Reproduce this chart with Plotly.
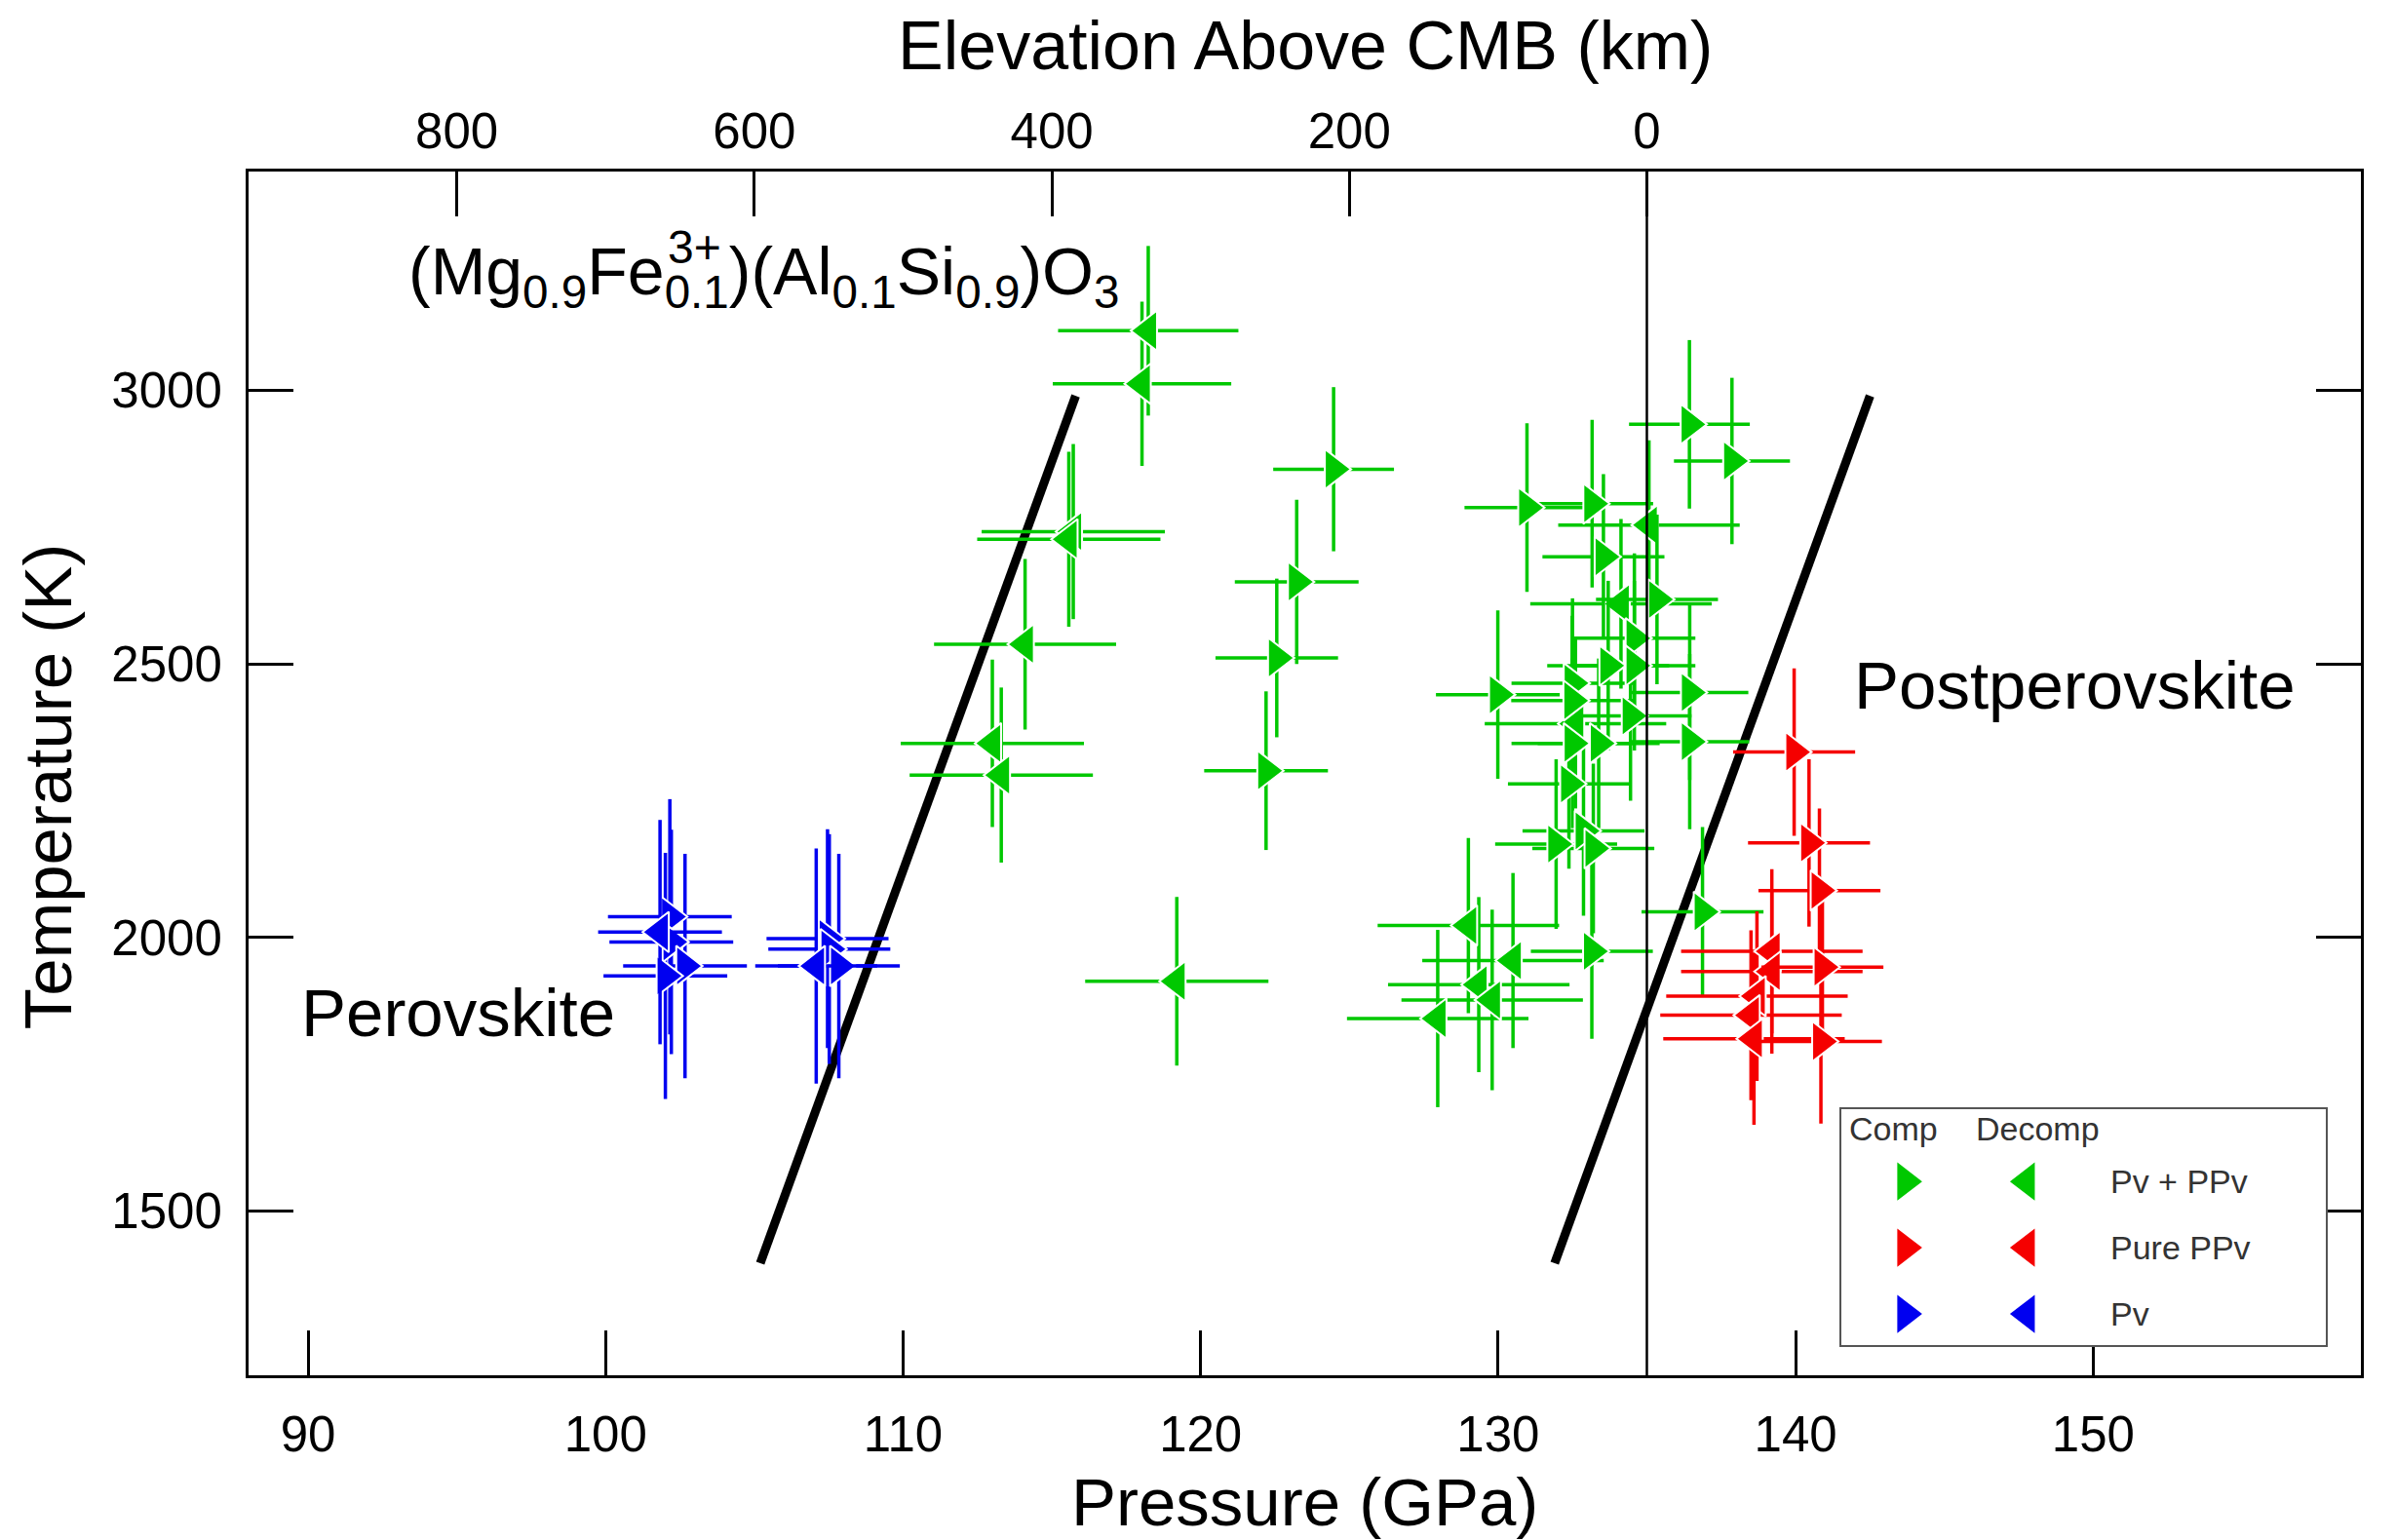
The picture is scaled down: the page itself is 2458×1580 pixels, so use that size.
import plotly.graph_objects as go

# ---------------- data ----------------
# Pv + PPv (green), compression (right-pointing)
gc_P = [124.47, 123.23, 122.56, 122.20, 136.43, 137.86, 130.97, 133.16, 133.54, 135.34,
        134.58, 133.70, 134.58, 129.99, 136.44, 132.50, 132.49, 134.45, 132.50, 133.38,
        136.44, 132.38, 132.87, 131.95, 133.20, 133.15, 136.87]
gc_T = [2856, 2650, 2511, 2305, 2938, 2871, 2786, 2793, 2696, 2618,
        2547, 2497, 2497, 2444, 2448, 2465, 2433, 2405, 2355, 2355,
        2358, 2281, 2195, 2171, 2163, 1975, 2047]
gc_Perr = [2.03, 2.08, 2.06, 2.08, 2.03, 1.95, 2.10, 2.05, 2.05, 2.05,
           2.05, 2.05, 2.05, 2.08, 1.97, 2.05, 2.05, 2.05, 2.05, 2.05,
           2.00, 2.05, 2.05, 2.05, 2.05, 2.05, 2.05]
gc_Terr = [150, 150, 145, 145, 154, 152, 154, 153, 151, 155,
           155, 155, 155, 154, 160, 155, 155, 155, 155, 155,
           160, 155, 155, 155, 155, 160, 155]

# Pv + PPv (green), decompression (left-pointing)
gd_P = [118.24, 118.03, 115.72, 115.57, 114.10, 113.00, 113.30, 119.20,
        135.07, 134.13, 132.60, 129.00, 130.50, 129.35, 129.80, 127.97]
gd_T = [3109, 3012, 2742, 2728, 2536, 2355, 2297, 1920,
        2754, 2610, 2391, 2022, 1958, 1914, 1886, 1852]
gd_Perr = [3.03, 3.00, 3.08, 3.08, 3.06, 3.08, 3.08, 3.08,
           3.05, 3.05, 3.05, 3.05, 3.05, 3.05, 3.05, 3.05]
gd_Terr = [155, 150, 160, 160, 156, 153, 160, 154,
           155, 155, 155, 160, 160, 160, 165, 162]

# Pure PPv (red)
rc_P = [139.95, 140.45, 140.80, 140.90, 140.85]
rc_T = [2339, 2173, 2086, 1946, 1810]
rc_Perr = [2.05, 2.05, 2.05, 2.05, 2.05]
rc_Terr = [153, 153, 150, 150, 150]
rd_P = [139.20, 139.20, 138.70, 138.50, 138.60]
rd_T = [1975, 1938, 1893, 1858, 1815]
rd_Perr = [3.05, 3.05, 3.05, 3.05, 3.05]
rd_Terr = [150, 150, 155, 155, 157]

# Pv (blue)
bc_P = [102.16, 102.21, 102.67, 102.01, 107.46, 107.52, 107.84]
bc_T = [2038, 1992, 1948, 1930, 1998, 1979, 1948]
bc_Perr = [2.08, 2.08, 2.08, 2.08, 2.05, 2.05, 2.05]
bc_Terr = [215, 205, 205, 225, 200, 210, 205]
bd_P = [101.83, 107.08]
bd_T = [2010, 1948]
bd_Perr = [2.08, 2.05]
bd_Terr = [205, 215]

# Phase boundaries
left_bound_P = [105.2, 115.8]
left_bound_T = [1405, 2990]
right_bound_P = [131.9, 142.5]
right_bound_T = [1405, 2990]

# Core-mantle boundary (elevation 0 km)
cmb_elev = [0, 0]
cmb_T = [1200, 3400]

P_ticks = [90, 100, 110, 120, 130, 140, 150]
T_ticks = [1500, 2000, 2500, 3000]
elev_ticks = [800, 600, 400, 200, 0]

legend_rows = ["Pv + PPv", "Pure PPv", "Pv"]
legend_cols = ["Comp", "Decomp"]

# ---------------- style ----------------
GREEN = "rgb(0,200,0)"
RED = "rgb(245,0,0)"
BLUE = "rgb(0,0,240)"
FONT = "Liberation Sans, Arial, sans-serif"
P_RANGE = [88, 159]
T_RANGE = [1200, 3400]
P_CMB = 135.0
KM_PER_GPA = 20.0

fig = go.Figure()

# boundary lines (under data)
for bp, bt in ((left_bound_P, left_bound_T), (right_bound_P, right_bound_T)):
    fig.add_trace(go.Scatter(x=bp, y=bt, mode="lines",
                             line=dict(color="black", width=9),
                             showlegend=False, hoverinfo="skip"))

# CMB line on the elevation axis
fig.add_trace(go.Scatter(x=cmb_elev, y=cmb_T, mode="lines", xaxis="x2", yaxis="y",
                         line=dict(color="black", width=2.5),
                         showlegend=False, hoverinfo="skip"))


def add_series(P, T, Perr, Terr, color, symbol):
    fig.add_trace(go.Scatter(
        x=P, y=T, mode="markers",
        marker=dict(symbol=symbol, size=36, color=color,
                    line=dict(color="white", width=2)),
        error_x=dict(type="data", array=Perr, visible=True, color=color,
                     thickness=3.5, width=0),
        error_y=dict(type="data", array=Terr, visible=True, color=color,
                     thickness=3.5, width=0),
        showlegend=False))


add_series(bc_P, bc_T, bc_Perr, bc_Terr, BLUE, "triangle-right")
add_series(bd_P, bd_T, bd_Perr, bd_Terr, BLUE, "triangle-left")
add_series(gd_P, gd_T, gd_Perr, gd_Terr, GREEN, "triangle-left")
add_series(gc_P, gc_T, gc_Perr, gc_Terr, GREEN, "triangle-right")
add_series(rd_P, rd_T, rd_Perr, rd_Terr, RED, "triangle-left")
add_series(rc_P, rc_T, rc_Perr, rc_Terr, RED, "triangle-right")

# ---------------- custom legend (own small axes) ----------------
row_colors = [GREEN, RED, BLUE]
lx, ly, lsym, lcol = [], [], [], []
n_rows = len(legend_rows)
for i, row in enumerate(legend_rows):
    for j, col in enumerate(legend_cols):
        lx.append(j)
        ly.append(n_rows - 1 - i)
        lsym.append("triangle-right" if j == 0 else "triangle-left")
        lcol.append(row_colors[i])
fig.add_trace(go.Scatter(x=lx, y=ly, mode="markers", xaxis="x3", yaxis="y3",
                         marker=dict(symbol=lsym, size=34, color=lcol, line=dict(width=0)),
                         showlegend=False, hoverinfo="skip"))

annotations = []
LEG_FONT = dict(family=FONT, size=34, color="#333333")
for j, col in enumerate(legend_cols):
    annotations.append(dict(text=col, x=[-0.10, 1.09][j], y=2.79, xref="x3", yref="y3",
                            showarrow=False, xanchor="center", yanchor="middle", font=LEG_FONT))
for i, row in enumerate(legend_rows):
    annotations.append(dict(text=row, x=1.68, y=n_rows - 1 - i, xref="x3", yref="y3",
                            showarrow=False, xanchor="left", yanchor="middle", font=LEG_FONT))

# ---------------- text labels ----------------
BIG = dict(family=FONT, size=69, color="black")
annotations += [
    dict(text="(Mg<sub>0.9</sub>Fe<sub>0.1</sub>)(Al<sub>0.1</sub>Si<sub>0.9</sub>)O<sub>3</sub>",
         x=93.3, y=3210, xref="x", yref="y", xanchor="left", yanchor="middle",
         showarrow=False, font=dict(family=FONT, size=68, color="black")),
    dict(text="3+", x=103.0, y=3262, xref="x", yref="y", xanchor="center", yanchor="middle",
         showarrow=False, font=dict(family=FONT, size=48, color="black")),
    dict(text="Perovskite", x=89.69, y=1862, xref="x", yref="y", xanchor="left",
         yanchor="middle", showarrow=False, font=BIG),
    dict(text="Postperovskite", x=141.9, y=2461, xref="x", yref="y", xanchor="left",
         yanchor="middle", showarrow=False, font=BIG),
    dict(text="Pressure (GPa)", x=0.5, y=-0.106, xref="paper", yref="paper",
         xanchor="center", yanchor="middle", showarrow=False, font=BIG),
    dict(text="Elevation Above CMB (km)", x=0.5, y=1.1041, xref="paper", yref="paper",
         xanchor="center", yanchor="middle", showarrow=False,
         font=dict(family=FONT, size=70, color="black")),
    dict(text="Temperature (K)", x=-0.095, y=0.489, xref="paper", yref="paper",
         xanchor="center", yanchor="middle", textangle=-90, showarrow=False, font=BIG),
]

TICKFONT = dict(family=FONT, size=51, color="black")
axis_common = dict(showgrid=False, zeroline=False, showline=True, linecolor="black",
                   linewidth=3, ticks="inside", ticklen=46, tickwidth=2.5,
                   tickcolor="black", tickfont=TICKFONT)

# the page body keeps an 8px margin, so the figure is sized and offset for it
fig.update_layout(
    width=2450, height=1572,
    margin=dict(l=247, r=36, t=168, b=169),
    paper_bgcolor="white", plot_bgcolor="white",
    showlegend=False,
    font=dict(family=FONT),
    xaxis=dict(range=P_RANGE, tickvals=P_ticks, mirror=False, ticklabelstandoff=14,
               **axis_common),
    xaxis2=dict(range=[(P_CMB - P_RANGE[0]) * KM_PER_GPA, (P_CMB - P_RANGE[1]) * KM_PER_GPA],
                tickvals=elev_ticks, overlaying="x", side="top", anchor="y",
                ticklabelstandoff=1, **axis_common),
    yaxis=dict(range=T_RANGE, tickvals=T_ticks, mirror="ticks", ticklabelstandoff=14,
               **axis_common),
    xaxis3=dict(domain=[0.7540, 0.9834], range=[-0.532, 3.476], anchor="y3",
                showgrid=False, zeroline=False, showticklabels=False, ticks="",
                showline=True, mirror=True, linecolor="#555555", linewidth=2),
    yaxis3=dict(domain=[0.0251, 0.2210], range=[-0.47, 3.09], anchor="x3",
                showgrid=False, zeroline=False, showticklabels=False, ticks="",
                showline=True, mirror=True, linecolor="#555555", linewidth=2),
    annotations=annotations,
)

fig.write_html("out.html")
